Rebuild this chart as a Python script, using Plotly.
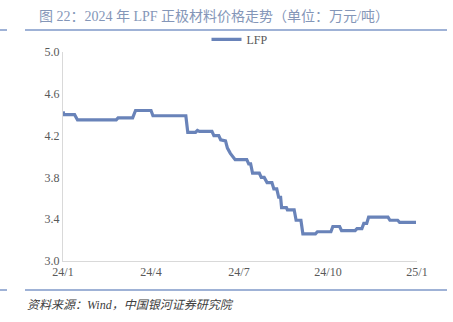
import plotly.graph_objects as go

dates = ["2024-01-01", "2024-01-02", "2024-01-13", "2024-01-16", "2024-02-25", "2024-02-27",
         "2024-03-13", "2024-03-16", "2024-04-01", "2024-04-03", "2024-05-07", "2024-05-09",
         "2024-05-17", "2024-05-19", "2024-05-21", "2024-06-03", "2024-06-05", "2024-06-10",
         "2024-06-12", "2024-06-17", "2024-06-19", "2024-06-22", "2024-06-27", "2024-07-09",
         "2024-07-11", "2024-07-13", "2024-07-15", "2024-07-22", "2024-07-24", "2024-07-27",
         "2024-07-30", "2024-08-04", "2024-08-06", "2024-08-09", "2024-08-11", "2024-08-13",
         "2024-08-14", "2024-08-19", "2024-08-20", "2024-08-27", "2024-08-29", "2024-09-03",
         "2024-09-05", "2024-09-18", "2024-09-20", "2024-10-04", "2024-10-06", "2024-10-13",
         "2024-10-15", "2024-10-29", "2024-10-31", "2024-11-05", "2024-11-07", "2024-11-10",
         "2024-11-12", "2024-12-02", "2024-12-04", "2024-12-12", "2024-12-14", "2024-12-31"]
lfp = [4.43, 4.40, 4.40, 4.35, 4.35, 4.37,
       4.37, 4.44, 4.44, 4.39, 4.39, 4.23,
       4.23, 4.25, 4.24, 4.24, 4.20, 4.20,
       4.16, 4.15, 4.08, 4.03, 3.97, 3.97,
       3.93, 3.93, 3.84, 3.84, 3.80, 3.80,
       3.75, 3.75, 3.69, 3.69, 3.61, 3.61,
       3.51, 3.51, 3.49, 3.49, 3.39, 3.39,
       3.26, 3.26, 3.28, 3.28, 3.33, 3.33,
       3.29, 3.29, 3.31, 3.31, 3.36, 3.36,
       3.42, 3.42, 3.39, 3.39, 3.37, 3.37]

x_tickvals = ["2024-01-01", "2024-04-01", "2024-07-01", "2024-10-01", "2025-01-01"]
x_ticktext = ["24/1", "24/4", "24/7", "24/10", "25/1"]
y_tickvals = [3.0, 3.4, 3.8, 4.2, 4.6, 5.0]

title = "图 22：2024 年 LPF 正极材料价格走势（单位：万元/吨）"
source = "资料来源：Wind，中国银河证券研究院"

fig = go.Figure()
fig.add_trace(go.Scatter(x=dates, y=lfp, mode="lines", name="LFP",
                         line=dict(color="#6983b9", width=3.2)))

fig.update_layout(
    width=453, height=322,
    margin=dict(l=63, r=36, t=52, b=61),
    paper_bgcolor="white", plot_bgcolor="white",
    showlegend=True,
    legend=dict(x=0.5, y=1.06, xanchor="center", yanchor="middle",
                font=dict(family="Liberation Serif", size=12, color="#595959"),
                bgcolor="rgba(0,0,0,0)"),
    xaxis=dict(range=["2024-01-01", "2025-01-01"], tickvals=x_tickvals, ticktext=x_ticktext,
               showgrid=False, showline=True, linecolor="#d9d9d9", linewidth=1,
               ticks="", zeroline=False,
               tickfont=dict(family="Liberation Serif", size=12, color="#595959")),
    yaxis=dict(range=[3.0, 5.0], tickvals=y_tickvals, tickformat=".1f",
               showgrid=False, showline=True, linecolor="#d9d9d9", linewidth=1,
               ticks="", zeroline=False,
               tickfont=dict(family="Liberation Serif", size=12, color="#595959")),
    font=dict(family="Noto Sans CJK SC"),
)

fig.add_annotation(text=title, xref="paper", yref="paper", x=(37 - 63) / 354, y=1 + (52 - 17) / 209,
                   xanchor="left", yanchor="middle", showarrow=False,
                   font=dict(family="Liberation Serif, Noto Sans CJK SC", size=14, color="#8496b8"))
fig.add_annotation(text=source, xref="paper", yref="paper", x=(25 - 63) / 354, y=-(305 - 261) / 209,
                   xanchor="left", yanchor="middle", showarrow=False,
                   font=dict(family="Liberation Serif, Noto Sans CJK SC", size=12, color="#404040",
                             style="italic"))
# header/footer rules
for yy in (30, 290):
    fig.add_shape(type="line", xref="paper", yref="paper",
                  x0=(25 - 63) / 354, x1=(447 - 63) / 354,
                  y0=(261 - yy) / 209, y1=(261 - yy) / 209,
                  line=dict(color="#7f98c8", width=1.5))
    fig.add_shape(type="line", xref="paper", yref="paper",
                  x0=(0 - 63) / 354, x1=(7 - 63) / 354,
                  y0=(261 - yy) / 209, y1=(261 - yy) / 209,
                  line=dict(color="#7f98c8", width=1.5))

fig.write_html("out.html")
